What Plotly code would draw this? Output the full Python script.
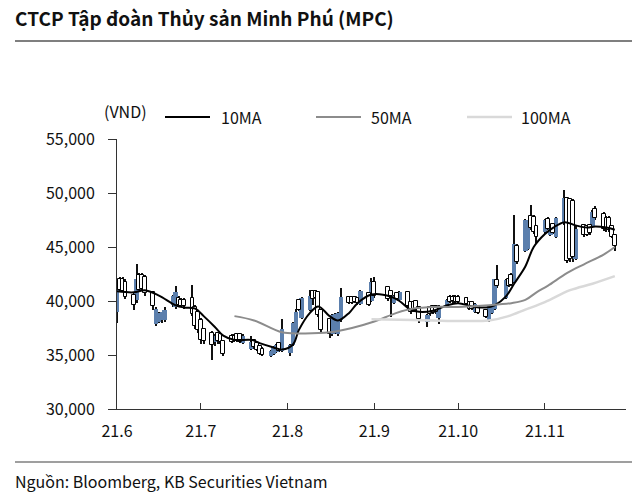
import pandas as pd
import plotly.graph_objects as go

# ---------------- data (prices in thousand VND) ----------------
holidays = ["2021-09-02", "2021-09-03"]
dates = [d for d in pd.bdate_range("2021-06-01", "2021-11-26") if d.strftime("%Y-%m-%d") not in holidays]

opens = [
    # June
    39.0, 42.0, 42.0, 41.8, 40.6, 40.1, 42.4, 42.4, 42.2, 40.8, 37.9, 38.1, 38.2, 38.2, 39.6, 39.4, 40.3, 40.1, 40.1, 40.3, 39.4, 39.0,
    # July
    38.2, 37.4, 37.0, 36.2, 37.0, 36.9, 36.3, 36.8, 36.8, 36.9, 36.9, 36.1, 35.6, 36.4, 36.1, 35.8, 35.6, 34.9, 35.1, 35.3, 36.1, 35.4,
    # August
    35.2, 35.9, 37.0, 40.1, 38.4, 39.2, 40.9, 40.9, 40.8, 39.2, 38.3, 36.9, 37.0, 36.9, 38.2, 40.4, 40.4, 40.4, 40.3, 39.7, 40.7, 40.0,
    # September
    41.8, 41.3, 40.9, 39.8, 40.7, 40.1, 40.8, 39.9, 39.9, 40.0, 39.4, 38.1, 39.4, 39.5, 39.5, 38.4, 39.5, 40.4, 40.4, 40.4,
    # October
    40.4, 40.3, 39.9, 39.9, 39.0, 39.5, 39.2, 38.2, 38.9, 39.3, 41.9, 40.3, 42.0, 42.4, 41.8, 45.1, 44.6, 44.8, 47.9, 47.8, 46.9,
    # November
    46.4, 47.6, 46.1, 47.1, 45.9, 47.2, 49.5, 49.4, 49.3, 43.9, 47.0, 46.9, 47.0, 46.9, 48.5, 48.1, 47.7, 47.7, 46.9, 46.1,
]
highs = [
    41.2, 42.2, 42.2, 42.0, 40.8, 43.4, 42.6, 42.6, 42.4, 40.9, 39.4, 39.0, 39.0, 39.4, 40.6, 41.4, 40.5, 40.3, 40.3, 41.5, 39.6, 39.2,
    38.4, 37.5, 37.2, 36.9, 37.1, 37.0, 36.4, 36.9, 36.9, 37.0, 37.0, 36.9, 36.8, 36.5, 36.2, 35.9, 35.7, 35.5, 35.8, 36.0, 36.2, 38.3,
    36.0, 38.1, 39.3, 40.2, 40.4, 41.0, 41.0, 41.0, 40.9, 39.3, 38.4, 38.8, 38.9, 39.0, 41.2, 40.5, 40.5, 40.5, 40.4, 41.0, 40.8, 42.1,
    42.2, 41.4, 41.0, 40.6, 40.8, 40.9, 40.9, 40.0, 40.0, 40.1, 39.5, 38.8, 39.5, 39.6, 39.6, 39.6, 40.2, 40.6, 40.6, 40.6,
    40.6, 40.4, 40.0, 40.0, 39.8, 39.6, 39.3, 39.6, 39.6, 42.0, 43.3, 42.0, 42.4, 42.6, 48.0, 45.3, 47.6, 47.0, 48.9, 48.0, 47.0,
    47.6, 47.8, 47.1, 47.2, 47.8, 50.3, 49.6, 49.5, 49.4, 47.0, 47.1, 47.0, 47.1, 48.4, 48.8, 48.2, 47.9, 47.9, 47.0, 46.1,
]
lows = [
    38.0, 40.8, 40.9, 40.2, 39.2, 39.8, 40.9, 41.0, 40.5, 39.2, 37.7, 38.0, 38.0, 38.1, 39.4, 39.3, 39.5, 39.4, 39.3, 38.6, 37.4, 37.0,
    36.0, 36.0, 34.5, 35.8, 36.0, 36.0, 34.9, 36.1, 36.2, 36.2, 36.1, 36.0, 35.5, 35.6, 35.4, 35.0, 34.9, 34.8, 35.0, 35.2, 35.3, 35.3,
    34.9, 35.8, 36.9, 39.1, 38.3, 39.1, 39.6, 39.8, 38.5, 37.0, 36.6, 36.8, 36.9, 36.8, 38.1, 39.7, 39.7, 39.8, 39.6, 39.6, 39.5, 39.9,
    40.3, 40.0, 38.5, 39.7, 40.1, 40.0, 39.3, 38.8, 39.0, 39.1, 38.0, 37.6, 38.6, 38.8, 38.8, 37.9, 39.4, 39.8, 39.8, 39.8,
    39.8, 39.6, 39.2, 39.2, 38.9, 38.8, 38.4, 38.1, 38.8, 39.2, 41.2, 40.2, 41.3, 41.4, 41.7, 43.4, 44.5, 44.7, 46.6, 46.2, 45.4,
    46.2, 46.6, 46.0, 46.2, 45.8, 47.0, 43.5, 43.6, 43.6, 43.8, 45.9, 46.0, 46.1, 46.8, 47.5, 46.5, 46.4, 46.4, 45.8, 44.6,
]
closes = [
    41.0, 41.0, 40.9, 40.4, 39.6, 42.0, 41.0, 41.1, 40.7, 39.5, 39.3, 38.9, 39.0, 39.2, 40.5, 40.8, 39.6, 39.5, 39.5, 38.8, 37.7, 37.3,
    36.4, 36.3, 35.9, 36.8, 36.3, 36.2, 35.1, 36.2, 36.3, 36.3, 36.2, 36.8, 36.2, 35.7, 35.5, 35.1, 35.0, 35.4, 35.7, 35.9, 35.4, 37.4,
    35.9, 38.0, 39.0, 39.2, 40.3, 40.5, 40.2, 40.3, 38.7, 37.3, 36.9, 38.7, 38.8, 38.9, 40.4, 39.8, 39.8, 39.9, 39.8, 40.9, 39.6, 41.8,
    40.5, 40.2, 40.5, 40.5, 40.2, 40.8, 39.5, 39.0, 39.2, 39.2, 38.3, 38.7, 38.8, 38.9, 39.0, 39.5, 40.1, 39.9, 40.0, 39.9,
    39.9, 39.7, 39.3, 39.3, 39.7, 38.9, 38.5, 39.6, 39.5, 42.0, 41.4, 41.9, 41.4, 41.5, 45.3, 43.6, 47.5, 46.9, 46.8, 46.4, 45.9,
    47.5, 46.7, 47.0, 46.3, 47.7, 49.5, 43.7, 43.9, 44.1, 46.7, 46.1, 46.1, 46.3, 48.2, 47.7, 46.7, 46.7, 46.6, 45.9, 45.1,
]

ma10_dates = ["2021-06-01", "2021-06-07", "2021-06-11", "2021-06-16", "2021-06-22", "2021-06-25", "2021-06-29",
              "2021-07-02", "2021-07-06", "2021-07-09", "2021-07-13", "2021-07-19", "2021-07-22", "2021-07-27",
              "2021-07-30", "2021-08-03", "2021-08-05", "2021-08-09", "2021-08-12", "2021-08-16", "2021-08-19",
              "2021-08-23", "2021-08-26", "2021-08-31", "2021-09-07", "2021-09-10", "2021-09-14", "2021-09-17",
              "2021-09-22", "2021-09-27", "2021-10-01", "2021-10-06", "2021-10-11", "2021-10-14", "2021-10-18",
              "2021-10-21", "2021-10-25", "2021-10-28", "2021-11-01", "2021-11-04", "2021-11-08", "2021-11-12",
              "2021-11-16", "2021-11-19", "2021-11-23", "2021-11-26"]
ma10_vals = [40.9, 40.8, 41.0, 40.5, 39.6, 39.4, 39.3,
             38.6, 37.6, 36.8, 36.4, 36.4, 36.1, 35.7,
             35.5, 36.0, 37.3, 38.9, 39.5, 38.6, 38.2,
             38.9, 39.8, 40.6, 40.4, 40.0, 39.2, 39.0,
             39.1, 39.6, 39.8, 39.5, 39.4, 39.6, 40.4,
             41.6, 43.2, 45.0, 46.2, 46.8, 47.3, 47.0,
             46.8, 46.9, 46.8, 46.6]

ma50_dates = ["2021-07-13", "2021-07-20", "2021-07-30", "2021-08-06", "2021-08-16", "2021-08-24", "2021-09-01",
              "2021-09-09", "2021-09-15", "2021-09-23", "2021-10-01", "2021-10-12", "2021-10-20", "2021-10-25",
              "2021-10-29", "2021-11-02", "2021-11-09", "2021-11-15", "2021-11-22", "2021-11-26"]
ma50_vals = [38.6, 38.2, 37.1, 37.0, 37.1, 37.5, 38.1,
             38.9, 39.3, 39.45, 39.45, 39.6, 39.8, 40.1,
             40.8, 41.4, 42.6, 43.4, 44.3, 45.0]

ma100_dates = ["2021-08-31", "2021-09-15", "2021-10-01", "2021-10-12", "2021-10-19", "2021-10-25", "2021-11-01",
               "2021-11-10", "2021-11-18", "2021-11-26"]
ma100_vals = [38.3, 38.25, 38.15, 38.2, 38.6, 39.2, 39.9, 41.0, 41.6, 42.3]

month_ticks = ["2021-06-01", "2021-07-01", "2021-08-01", "2021-09-01", "2021-10-01", "2021-11-01"]
month_labels = ["21.6", "21.7", "21.8", "21.9", "21.10", "21.11"]
y_ticks = [30000, 35000, 40000, 45000, 50000, 55000]

K = 1000  # thousand VND -> VND

# ---------------- figure ----------------
FONT = "Noto Sans CJK KR, Noto Sans, sans-serif"
BLUE = "#5b7fad"
DAY_MS = 86400000

fig = go.Figure()

# high-low lines, drawn as thin bars so they sit beneath the open-close bodies
fig.add_trace(go.Bar(
    x=dates, base=[v * K for v in lows],
    y=[(h - l) * K for h, l in zip(highs, lows)],
    width=DAY_MS * 0.38, marker=dict(color="#111111", line=dict(width=0)),
    showlegend=False, hoverinfo="skip"))

# open-close bodies: up days filled blue, down days hollow
up = [i for i in range(len(dates)) if closes[i] >= opens[i]]
dn = [i for i in range(len(dates)) if closes[i] < opens[i]]
fig.add_trace(go.Bar(
    x=[dates[i] for i in up], base=[opens[i] * K for i in up],
    y=[(closes[i] - opens[i]) * K for i in up],
    width=DAY_MS * 1.6, marker=dict(color=BLUE, line=dict(width=0)),
    showlegend=False, hoverinfo="skip"))
fig.add_trace(go.Bar(
    x=[dates[i] for i in dn], base=[closes[i] * K for i in dn],
    y=[(opens[i] - closes[i]) * K for i in dn],
    width=DAY_MS * 1.35, marker=dict(color="white", line=dict(color="black", width=1)),
    showlegend=False, hoverinfo="skip"))

fig.add_trace(go.Scatter(x=ma10_dates, y=[v * K for v in ma10_vals], mode="lines", name="10MA",
                         line=dict(color="black", width=2, shape="spline"), showlegend=False))
fig.add_trace(go.Scatter(x=ma50_dates, y=[v * K for v in ma50_vals], mode="lines", name="50MA",
                         line=dict(color="#8c8c8c", width=2, shape="spline"), showlegend=False))
fig.add_trace(go.Scatter(x=ma100_dates, y=[v * K for v in ma100_vals], mode="lines", name="100MA",
                         line=dict(color="#d9d9d9", width=2.5, shape="spline"), showlegend=False))

L, R, T, B = 117, 14, 139, 89
PW, PH = 640 - L - R, 498 - T - B


def px(x):
    return (x - L) / PW


def py(y):
    return (498 - B - y) / PH


fig.update_layout(
    width=640, height=498,
    margin=dict(l=L, r=R, t=T, b=B, autoexpand=False),
    paper_bgcolor="white", plot_bgcolor="white",
    font=dict(family=FONT, size=16, color="#111111"),
    barmode="overlay", bargap=0,
    xaxis=dict(
        type="date", range=["2021-06-01", "2021-11-30"],
        showgrid=False, zeroline=False,
        showline=True, linecolor="#333333", linewidth=1,
        ticks="inside", ticklen=6, tickcolor="#333333",
        tickvals=month_ticks, ticktext=month_labels,
        tickfont=dict(size=16), ticklabelstandoff=8,
    ),
    yaxis=dict(
        range=[30000, 55000], showgrid=False, zeroline=False,
        showline=True, linecolor="#333333", linewidth=1,
        ticks="outside", ticklen=8, tickcolor="#333333",
        tickvals=y_ticks, tickformat=",", tickfont=dict(size=16),
        ticklabelstandoff=10,
    ),
    showlegend=False,
)

# legend (drawn manually to match the original spacing)
legend_items = [("10MA", "black", 2, 165, 210, 219),
                ("50MA", "#8c8c8c", 2, 316, 361, 369),
                ("100MA", "#d9d9d9", 2.5, 467, 512, 519)]
for name, col, w, x0, x1, tx in legend_items:
    fig.add_shape(type="line", xref="paper", yref="paper", x0=px(x0), x1=px(x1), y0=py(117), y1=py(117),
                  line=dict(color=col, width=w))
    fig.add_annotation(text=name, xref="paper", yref="paper", x=px(tx), y=py(117),
                       xanchor="left", yanchor="middle", showarrow=False, font=dict(size=16))

fig.add_annotation(text="<b>CTCP Tập đoàn Thủy sản Minh Phú (MPC)</b>", xref="paper", yref="paper",
                   x=px(13), y=py(18), xanchor="left", yanchor="middle", showarrow=False,
                   font=dict(size=19, color="#111111"))
fig.add_annotation(text="(VND)", xref="paper", yref="paper", x=px(125), y=py(111),
                   xanchor="center", yanchor="middle", showarrow=False, font=dict(size=16))
fig.add_annotation(text="Nguồn: Bloomberg, KB Securities Vietnam", xref="paper", yref="paper",
                   x=px(13), y=py(481), xanchor="left", yanchor="middle", showarrow=False,
                   font=dict(size=16))

fig.add_shape(type="line", xref="paper", yref="paper", x0=px(15), x1=px(632), y0=py(41), y1=py(41),
              line=dict(color="#7f7f7f", width=2))
fig.add_shape(type="line", xref="paper", yref="paper", x0=px(15), x1=px(632), y0=py(462), y1=py(462),
              line=dict(color="#7f7f7f", width=1.5))

fig.write_html("out.html", config={"displayModeBar": False},
               post_script="document.body.style.margin='0px';")
